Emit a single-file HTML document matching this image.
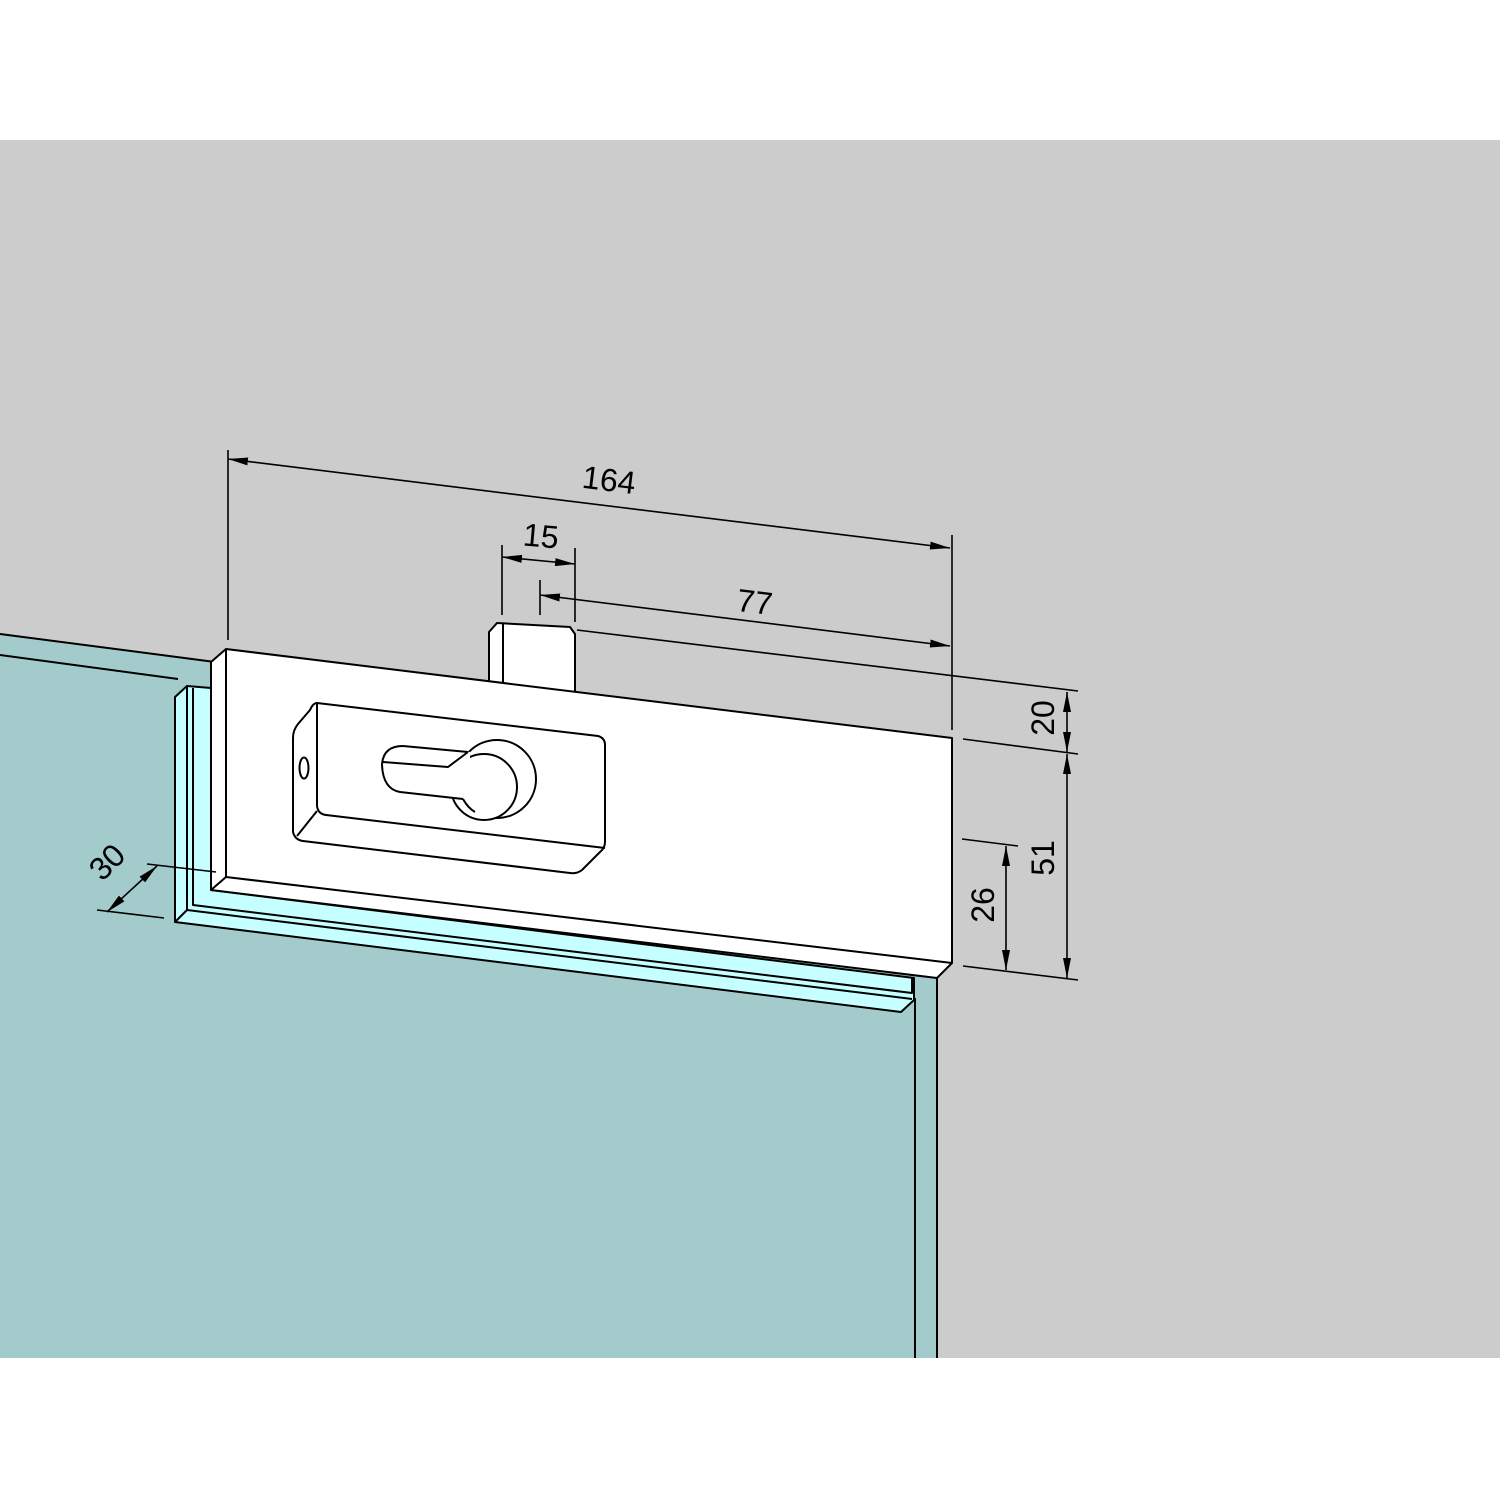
<!DOCTYPE html>
<html><head><meta charset="utf-8"><style>
html,body{margin:0;padding:0;background:#fff}
svg{display:block}
text{font-family:"Liberation Sans",sans-serif;font-size:32px;fill:#000}
</style></head><body>
<svg width="1500" height="1500" viewBox="0 0 1500 1500" xmlns="http://www.w3.org/2000/svg">
<defs>
<marker id="a" viewBox="0 0 20 8" refX="20" refY="4" markerWidth="20" markerHeight="8" orient="auto" markerUnits="userSpaceOnUse"><path d="M0,0 L20,4 L0,8 Z" fill="#000"/></marker>
<marker id="b" viewBox="0 0 20 8" refX="0" refY="4" markerWidth="20" markerHeight="8" orient="auto" markerUnits="userSpaceOnUse"><path d="M20,0 L0,4 L20,8 Z" fill="#000"/></marker>
</defs>
<rect x="0" y="140" width="1500" height="1218" fill="#cccccc"/>
<g stroke="#000" stroke-width="2" stroke-linejoin="round">
<polygon points="0,634 937,760 937,1358 0,1358" fill="#a3cbcb" stroke="none"/>
<line x1="0" y1="634" x2="215" y2="662"/>
<line x1="0" y1="655" x2="178" y2="679"/>
<line x1="915" y1="998" x2="915" y2="1358"/>
<line x1="937" y1="978" x2="937" y2="1358"/>
<polygon points="175,697 187,686 211,688 211,890 914,978 914,1000 901,1012 175,922" fill="#c6ffff"/>
<polyline points="187,686 187,910 912,999" fill="none"/>
<polyline points="193,688 193,905 912,993 912,978" fill="none"/>
<line x1="175" y1="922" x2="187" y2="910"/>
<polygon points="489,632 497,623 570,627 575,634 575,700 489,690" fill="#fff"/>
<line x1="503" y1="623" x2="503" y2="690"/>
<polygon points="211,662 226,649 952,738 952,963 937,978 211,890" fill="#fff"/>
<polyline points="226,649 226,877 952,963" fill="none"/>
<line x1="211" y1="890" x2="226" y2="877"/>
<path d="M317,703 L598,736 Q605,738 605,745 L605,842 Q605,848 600,852 L582,870 Q577,874 570,873 L303,841 Q295,840 293,832 L293,738 Q293,730 298,724 L310,710 Q313,703 317,703 Z" fill="#fff"/>
<line x1="317" y1="703" x2="317" y2="806"/>
<path d="M317,806 Q318,814 326,815 L605,848" fill="none"/>
<line x1="317" y1="811" x2="297" y2="836"/>
<ellipse cx="304" cy="768" rx="4.5" ry="10.5" fill="none"/>
<!-- keyhole -->
<circle cx="497" cy="779" r="39" fill="#fff"/>
<circle cx="484" cy="787" r="33" fill="#fff"/>
<path d="M403,746 L470,752 L470,799 L400,792 A23,23 0 0 1 403,746 Z" fill="#fff" stroke="none"/>
<path d="M403,746 L468,752" fill="none"/>
<path d="M403,746 Q383,746 382,765 Q383,789 400,792 L463,799" fill="none"/>
<path d="M383,762 L448,767 L468,752" fill="none"/>
<path d="M463,799 Q468,808 475,812" fill="none"/>
</g>
<g stroke="#000" stroke-width="1.6" fill="none">
<line x1="228" y1="450" x2="228" y2="640"/>
<line x1="952" y1="535" x2="952" y2="730"/>
<line x1="228" y1="459" x2="950" y2="548" marker-start="url(#b)" marker-end="url(#a)"/>
<line x1="502" y1="545" x2="502" y2="615"/>
<line x1="575" y1="548" x2="575" y2="622"/>
<line x1="502" y1="557" x2="575" y2="564" marker-start="url(#b)" marker-end="url(#a)"/>
<line x1="540" y1="580" x2="540" y2="615"/>
<line x1="540" y1="595" x2="950" y2="646" marker-start="url(#b)" marker-end="url(#a)"/>
<line x1="577" y1="630" x2="1078" y2="691"/>
<line x1="963" y1="739" x2="1078" y2="754"/>
<line x1="1067" y1="692" x2="1067" y2="752" marker-start="url(#b)" marker-end="url(#a)"/>
<line x1="1067" y1="754" x2="1067" y2="978" marker-start="url(#b)" marker-end="url(#a)"/>
<line x1="963" y1="966" x2="1078" y2="980"/>
<line x1="962" y1="839" x2="1018" y2="846"/>
<line x1="1006" y1="846" x2="1006" y2="970" marker-start="url(#b)" marker-end="url(#a)"/>
<line x1="147" y1="864" x2="216" y2="872"/>
<line x1="97" y1="910" x2="164" y2="918"/>
<line x1="107" y1="912" x2="157" y2="866" marker-start="url(#b)" marker-end="url(#a)"/>
</g>
<text x="609" y="491" text-anchor="middle" transform="rotate(7 609 480)">164</text>
<text x="541" y="547" text-anchor="middle" transform="rotate(5 541 535)">15</text>
<text x="755" y="613" text-anchor="middle" transform="rotate(7 755 600)">77</text>
<text x="1043" y="718" text-anchor="middle" dominant-baseline="central" transform="rotate(-90 1043 718)">20</text>
<text x="1043" y="858" text-anchor="middle" dominant-baseline="central" transform="rotate(-90 1043 858)">51</text>
<text x="983" y="905" text-anchor="middle" dominant-baseline="central" transform="rotate(-90 983 905)">26</text>
<text x="107" y="862" text-anchor="middle" dominant-baseline="central" transform="rotate(-45 107 862)">30</text>
</svg>
</body></html>
